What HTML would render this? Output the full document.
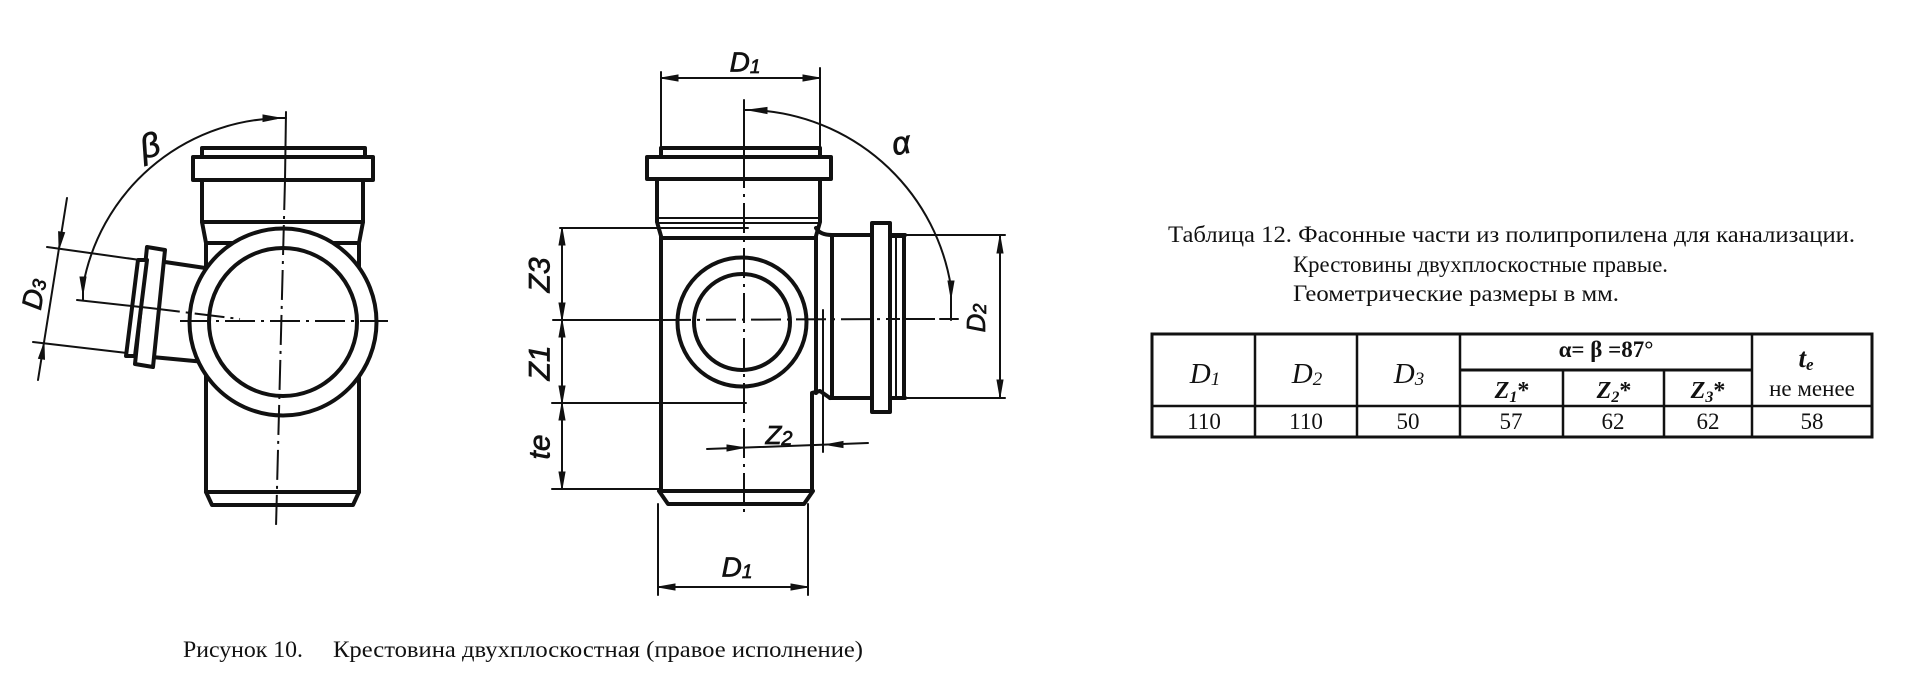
<!DOCTYPE html>
<html>
<head>
<meta charset="utf-8">
<style>
  html,body{margin:0;padding:0;background:#fff;}
  svg{display:block;}
  .ol{fill:none;stroke:#111;stroke-width:4;stroke-linejoin:round;stroke-linecap:round;}
  .olw{fill:#fff;stroke:#111;stroke-width:4;stroke-linejoin:round;}
  .th{fill:none;stroke:#111;stroke-width:2;stroke-linecap:round;}
  .cl{fill:none;stroke:#111;stroke-width:2;stroke-dasharray:30 6 3 6;}
  .ar{fill:#111;stroke:#111;stroke-width:1;}
  .hw{font-family:"Liberation Sans","DejaVu Sans",sans-serif;font-style:italic;fill:#111;stroke:#111;stroke-width:0.7;}
  .tx{font-family:"Liberation Serif","Noto Serif CJK SC",serif;fill:#111;}
  .tl{stroke:#111;}
</style>
</head>
<body>
<svg width="1920" height="695" viewBox="0 0 1920 695" xmlns="http://www.w3.org/2000/svg">
<rect width="1920" height="695" fill="#fff"/>

<!-- ================= LEFT DRAWING ================= -->
<rect x="202" y="148" width="163" height="9" class="ol" stroke-width="3"/>
<rect x="193" y="157" width="180" height="23" class="olw"/>
<polyline points="202,180 202,222 206,243 206,492" class="ol"/>
<polyline points="363,180 363,222 359,243 359,492" class="ol"/>
<line x1="202" y1="222" x2="363" y2="222" class="ol"/>
<line x1="206" y1="243" x2="359" y2="243" class="ol" stroke-width="3.5"/>
<polygon points="206,492 359,492 353,505 212,505" class="olw"/>

<polyline points="165,262 212,269" class="ol"/>
<polyline points="152,357 205,362" class="ol"/>
<polygon points="147,247 165,250 153,367 135,364" class="olw"/>
<polygon points="138,260 147,260 135,356 126,356" class="olw" stroke-width="3.5"/>

<circle cx="283" cy="322" r="93.5" class="olw" stroke-width="4.5"/>
<circle cx="283" cy="322" r="74" class="ol" stroke-width="4.5"/>

<line x1="286" y1="112" x2="285" y2="180" class="th"/>
<line x1="285" y1="180" x2="276" y2="527" class="cl"/>
<line x1="180" y1="321" x2="388" y2="321" class="cl"/>
<line x1="77" y1="300" x2="150" y2="308" class="th"/>
<line x1="150" y1="308" x2="240" y2="319" class="cl"/>

<line x1="47" y1="247" x2="140" y2="260" class="th"/>
<line x1="33" y1="342" x2="127" y2="353" class="th"/>
<line x1="67" y1="198" x2="38" y2="380" class="th"/>
<polygon points="59.1,248.7 64.6,232.7 58.6,231.7" class="ar"/>
<polygon points="44,343.3 44.5,359.3 38.5,358.3" class="ar"/>
<text class="hw" font-size="28" transform="translate(34,294) rotate(-80)" text-anchor="middle" dominant-baseline="central">D<tspan font-size="19" dy="4">3</tspan></text>

<path d="M 276 118.3 A 204 204 0 0 0 83 286" class="th" stroke-width="2.4"/>
<line x1="276" y1="118" x2="286" y2="118" class="th"/>
<polygon points="280,118 263,115 263,121.5" class="ar"/>
<line x1="83" y1="286" x2="83" y2="300" class="th"/>
<polygon points="83,294 80,277 86,277" class="ar"/>
<text class="hw" font-size="34" transform="translate(150,146) rotate(-15)" text-anchor="middle" dominant-baseline="central">β</text>

<!-- ================= MIDDLE DRAWING ================= -->
<line x1="661" y1="72" x2="661" y2="148" class="th"/>
<line x1="820" y1="68" x2="820" y2="148" class="th"/>
<line x1="661" y1="78" x2="820" y2="78" class="th"/>
<polygon points="661,78 678,75 678,81" class="ar"/>
<polygon points="820,78 803,75 803,81" class="ar"/>
<text class="hw" font-size="28" x="745" y="62" text-anchor="middle" dominant-baseline="central">D<tspan font-size="19" dy="5">1</tspan></text>

<rect x="661" y="148" width="159" height="9" class="ol" stroke-width="3"/>
<rect x="647" y="157" width="184" height="22" class="olw"/>
<polyline points="657,179 657,222 661,236 661,491" class="ol"/>
<polyline points="820,179 820,222 816,236 816,393" class="ol"/>
<line x1="657" y1="218" x2="820" y2="218" class="th" stroke-width="2.2"/>
<line x1="657" y1="223" x2="820" y2="223" class="th" stroke-width="2.2"/>
<line x1="661" y1="238" x2="816" y2="238" class="ol" stroke-width="3.5"/>

<path d="M 816 228 Q 820 235 832 235" class="ol" stroke-width="3.5"/>
<line x1="832" y1="235" x2="905" y2="235" class="ol" stroke-width="3.5"/>
<line x1="905" y1="235" x2="1005" y2="235" class="th"/>
<polyline points="812,491 812,393 820,391 830,398" class="ol"/>
<line x1="830" y1="398" x2="905" y2="398" class="ol" stroke-width="3.5"/>
<line x1="905" y1="398" x2="1005" y2="398" class="th"/>
<line x1="832" y1="235" x2="832" y2="398" class="ol"/>
<rect x="872" y="223" width="18" height="189" class="olw"/>
<line x1="896" y1="237" x2="896" y2="397" class="th" stroke-width="2.4"/>
<line x1="904" y1="235" x2="904" y2="398" class="ol"/>
<line x1="890" y1="237" x2="904" y2="237" class="th" stroke-width="2.4"/>
<line x1="890" y1="397" x2="904" y2="397" class="th" stroke-width="2.4"/>

<polygon points="659,491 813,491 804,504 668,504" class="olw"/>

<circle cx="742" cy="322" r="64.5" class="olw" stroke-width="4.5"/>
<circle cx="742" cy="322" r="48" class="ol" stroke-width="4.5"/>

<line x1="744" y1="100" x2="744" y2="158" class="th"/>
<line x1="744" y1="158" x2="744" y2="515" class="cl"/>
<line x1="553" y1="320" x2="661" y2="320" class="th"/>
<line x1="661" y1="320" x2="900" y2="319" class="cl"/>
<line x1="905" y1="319" x2="940" y2="319" class="cl"/>
<line x1="940" y1="319" x2="958" y2="319" class="th"/>

<line x1="560" y1="228" x2="748" y2="228" class="th"/>
<line x1="552" y1="403" x2="746" y2="403" class="th"/>
<line x1="552" y1="489" x2="660" y2="489" class="th"/>
<line x1="562" y1="228" x2="562" y2="489" class="th"/>
<polygon points="562,228 559,245 565,245" class="ar"/>
<polygon points="562,320 559,303 565,303" class="ar"/>
<polygon points="562,320 559,337 565,337" class="ar"/>
<polygon points="562,403 559,386 565,386" class="ar"/>
<polygon points="562,403 559,420 565,420" class="ar"/>
<polygon points="562,489 559,472 565,472" class="ar"/>
<text class="hw" font-size="30" transform="translate(540,275) rotate(-90)" text-anchor="middle" dominant-baseline="central">Z3</text>
<text class="hw" font-size="30" transform="translate(540,363) rotate(-90)" text-anchor="middle" dominant-baseline="central">Z1</text>
<text class="hw" font-size="30" transform="translate(540,447) rotate(-90)" text-anchor="middle" dominant-baseline="central">te</text>

<line x1="823" y1="310" x2="823" y2="452" class="th"/>
<line x1="707" y1="449" x2="868" y2="443" class="th"/>
<polygon points="744,447.6 727,445 727,451" class="ar"/>
<polygon points="826,444.6 843,441.5 843,447.5" class="ar"/>
<text class="hw" font-size="26" x="779" y="435" text-anchor="middle" dominant-baseline="central">Z<tspan font-size="20" dy="4">2</tspan></text>

<line x1="1000" y1="235" x2="1000" y2="398" class="th"/>
<polygon points="1000,236 997,253 1003,253" class="ar"/>
<polygon points="1000,397 997,380 1003,380" class="ar"/>
<text class="hw" font-size="26" transform="translate(976,318) rotate(-90)" text-anchor="middle" dominant-baseline="central">D<tspan font-size="18" dy="4">2</tspan></text>

<path d="M 766 111 A 210 210 0 0 1 951 287" class="th" stroke-width="2.4"/>
<polygon points="748,110 767,107.5 767,113.5" class="ar"/>
<line x1="744" y1="110" x2="752" y2="110" class="th"/>
<line x1="951" y1="287" x2="951" y2="320" class="th"/>
<polygon points="951,298 948,281 954,281" class="ar"/>
<text class="hw" font-size="32" transform="translate(901,143) rotate(-10)" text-anchor="middle" dominant-baseline="central">α</text>

<line x1="658" y1="504" x2="658" y2="595" class="th"/>
<line x1="808" y1="504" x2="808" y2="595" class="th"/>
<line x1="658" y1="587" x2="808" y2="587" class="th"/>
<polygon points="658,587 675,584 675,590" class="ar"/>
<polygon points="808,587 791,584 791,590" class="ar"/>
<text class="hw" font-size="28" x="737" y="567" text-anchor="middle" dominant-baseline="central">D<tspan font-size="19" dy="5">1</tspan></text>

<!-- ================= TITLE ================= -->
<text class="tx" font-size="23" x="1168" y="242" textLength="687" lengthAdjust="spacingAndGlyphs">Таблица 12. Фасонные части из полипропилена для канализации.</text>
<text class="tx" font-size="23" x="1293" y="272" textLength="375" lengthAdjust="spacingAndGlyphs">Крестовины двухплоскостные правые.</text>
<text class="tx" font-size="23" x="1293" y="301" textLength="326" lengthAdjust="spacingAndGlyphs">Геометрические размеры в мм.</text>

<!-- ================= TABLE ================= -->
<g class="tl" fill="none">
  <rect x="1152" y="334" width="720" height="103" stroke-width="3"/>
  <line x1="1255" y1="334" x2="1255" y2="437" stroke-width="2.5"/>
  <line x1="1357" y1="334" x2="1357" y2="437" stroke-width="2.5"/>
  <line x1="1460" y1="334" x2="1460" y2="437" stroke-width="2.5"/>
  <line x1="1752" y1="334" x2="1752" y2="437" stroke-width="2.5"/>
  <line x1="1563" y1="370" x2="1563" y2="437" stroke-width="2.5"/>
  <line x1="1664" y1="370" x2="1664" y2="437" stroke-width="2.5"/>
  <line x1="1460" y1="370" x2="1752" y2="370" stroke-width="3"/>
  <line x1="1152" y1="406" x2="1872" y2="406" stroke-width="2.5"/>
</g>
<g class="tx" text-anchor="middle">
  <text x="1205" y="383" font-size="29" font-style="italic">D<tspan font-size="19" dy="2">1</tspan></text>
  <text x="1307" y="383" font-size="29" font-style="italic">D<tspan font-size="19" dy="2">2</tspan></text>
  <text x="1409" y="383" font-size="29" font-style="italic">D<tspan font-size="19" dy="2">3</tspan></text>
  <text x="1606" y="357" font-size="23" font-weight="bold">α= β =87°</text>
  <text x="1512" y="398" font-size="24" font-weight="bold" font-style="italic">Z<tspan font-size="16" dy="4">1</tspan><tspan dy="-4" font-style="normal">*</tspan></text>
  <text x="1614" y="398" font-size="24" font-weight="bold" font-style="italic">Z<tspan font-size="16" dy="4">2</tspan><tspan dy="-4" font-style="normal">*</tspan></text>
  <text x="1708" y="398" font-size="24" font-weight="bold" font-style="italic">Z<tspan font-size="16" dy="4">3</tspan><tspan dy="-4" font-style="normal">*</tspan></text>
  <text x="1806" y="367" font-size="27" font-weight="bold" font-style="italic">t<tspan font-size="17" dy="3">e</tspan></text>
  <text x="1812" y="396" font-size="23">не менее</text>
  <text x="1204" y="429" font-size="23">110</text>
  <text x="1306" y="429" font-size="23">110</text>
  <text x="1408" y="429" font-size="23">50</text>
  <text x="1511" y="429" font-size="23">57</text>
  <text x="1613" y="429" font-size="23">62</text>
  <text x="1708" y="429" font-size="23">62</text>
  <text x="1812" y="429" font-size="23">58</text>
</g>

<!-- ================= CAPTION ================= -->
<text class="tx" font-size="23" x="183" y="657" textLength="120" lengthAdjust="spacingAndGlyphs">Рисунок 10.</text>
<text class="tx" font-size="23" x="333" y="657" textLength="530" lengthAdjust="spacingAndGlyphs">Крестовина двухплоскостная (правое исполнение)</text>
</svg>
</body>
</html>
